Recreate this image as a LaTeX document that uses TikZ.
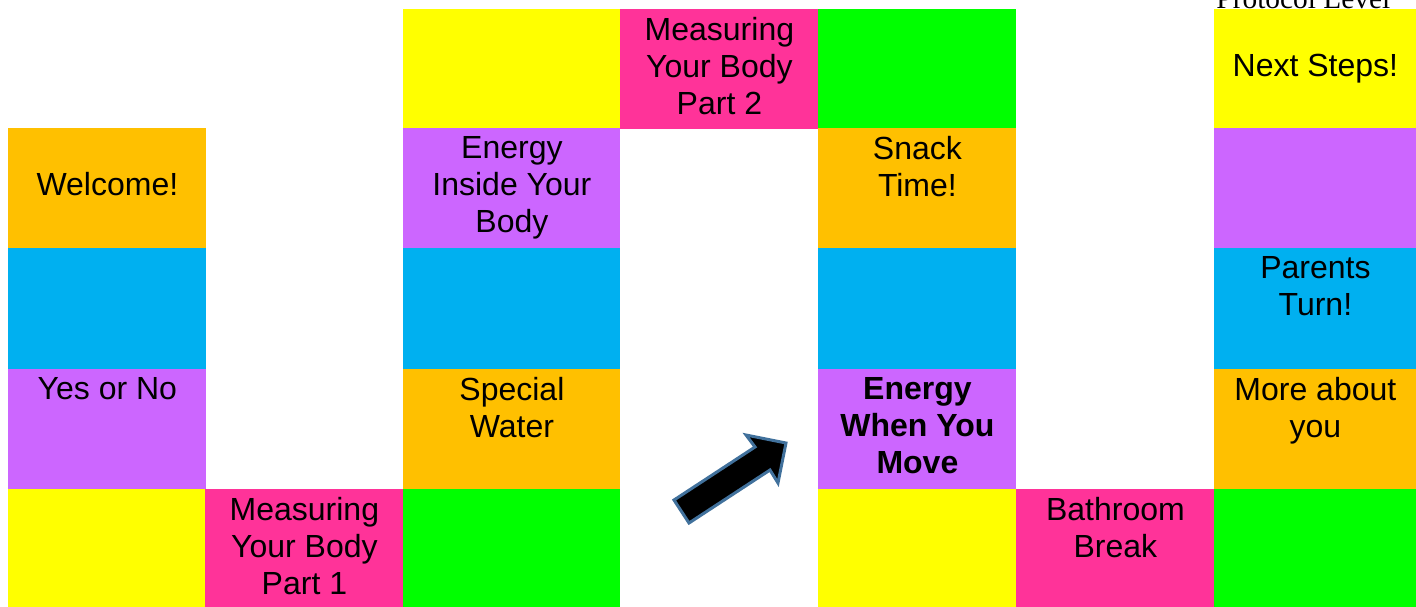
\documentclass[tikz,border=0pt]{standalone}
\usepackage{fontspec}
\setmainfont{Liberation Sans}
\newfontfamily\timesfont{Liberation Serif}
\usepackage{tikz}
\usetikzlibrary{positioning}
\definecolor{Yellow}{HTML}{FFFF00}
\definecolor{Orange}{HTML}{FFC000}
\definecolor{Sky}{HTML}{00B0F0}
\definecolor{Purple}{HTML}{CC66FF}
\definecolor{Pink}{HTML}{FF3399}
\definecolor{Green}{HTML}{00FF00}
\definecolor{Rim}{HTML}{41719C}

\begin{document}
\begin{tikzpicture}[x=0.5pt,y=-0.5pt,
    tile/.style={fill=#1,anchor=north west,inner sep=0,minimum width=99pt,minimum height=60.5pt},
    wide/.style={minimum width=108.5pt},
    word/.style={font=\fontsize{16}{18.5}\selectfont,align=center,inner sep=0},
    top/.style={word,below=4pt of #1.north}]
        \useasboundingbox (0,0) rectangle (1416,606);
        \clip (0,0) rectangle (1416,606);
        % top row
        \node[tile=Yellow,wide] (c3r1) at (403,9) {};
        \node[tile=Pink,minimum height=60pt] (c4r1) at (620,9) {};
        \node[tile=Green] (c5r1) at (818,9) {};
        \node[tile=Yellow,minimum width=101pt] (c7r1) at (1214,9) {};
        % second row
        \node[tile=Orange] (c1r2) at (8,128) {};
        \node[tile=Purple,wide] (c3r2) at (403,128) {};
        \node[tile=Orange] (c5r2) at (818,128) {};
        \node[tile=Purple,minimum width=101pt] (c7r2) at (1214,128) {};
        % third row
        \node[tile=Sky] (c1r3) at (8,248) {};
        \node[tile=Sky,wide] (c3r3) at (403,248) {};
        \node[tile=Sky] (c5r3) at (818,248) {};
        \node[tile=Sky,minimum width=101pt] (c7r3) at (1214,248) {};
        % fourth row
        \node[tile=Purple] (c1r4) at (8,369) {};
        \node[tile=Orange,wide] (c3r4) at (403,369) {};
        \node[tile=Purple] (c5r4) at (818,369) {};
        \node[tile=Orange,minimum width=101pt] (c7r4) at (1214,369) {};
        % bottom row
        \node[tile=Yellow] (c1r5) at (8,489) {};
        \node[tile=Pink] (c2r5) at (205,489) {};
        \node[tile=Green,wide] (c3r5) at (403,489) {};
        \node[tile=Yellow] (c5r5) at (818,489) {};
        \node[tile=Pink] (c6r5) at (1016,489) {};
        \node[tile=Green,minimum width=101pt] (c7r5) at (1214,489) {};
        % texts
        \node[word,anchor=base,yshift=-3.5pt] (welcome) at (c1r2.center) {Welcome!};
        \node[word,anchor=base,yshift=-3.5pt] (nextsteps) at (c7r1.center) {Next Steps!};
        \node[top=c1r4] (yesno) {Yes or No};
        \node[top=c2r5] (partone) {Measuring\\Your Body\\Part 1};
        \node[top=c3r2] (inside) {Energy\\Inside Your\\Body};
        \node[top=c3r4] (water) {Special\\Water};
        \node[top=c4r1] (parttwo) {Measuring\\Your Body\\Part 2};
        \node[top=c5r2] (snack) {Snack\\Time!};
        \node[top=c5r4,font=\fontsize{16}{18.5}\selectfont\bfseries] (move) {Energy\\When You\\Move};
        \node[top=c6r5] (bathroom) {Bathroom\\Break};
        \node[top=c7r3] (parents) {Parents\\Turn!};
        \node[top=c7r4] (about) {More about\\you};
        \node[anchor=base west,inner sep=0,font=\timesfont\fontsize{14.7}{17}\selectfont] (protocol) at (1216,8) {Protocol Level};
        % block arrow
        \draw[Rim,line width=1.5pt,fill=black,line join=miter] (674,500) -- (689,523) -- (770,470) -- (778,483)
            -- (786,443) -- (746,435) -- (755,447) -- cycle;
      \end{tikzpicture}
\end{document}
